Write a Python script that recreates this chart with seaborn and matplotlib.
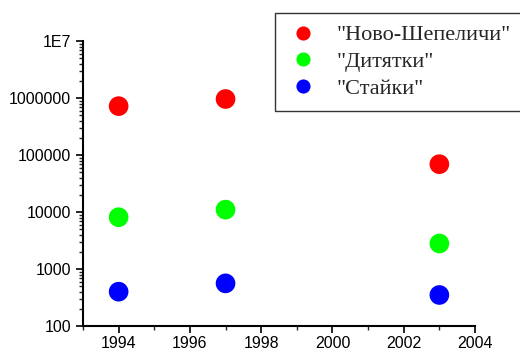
import matplotlib
matplotlib.use('Agg')
import matplotlib.pyplot as plt
import matplotlib.ticker as mticker
import seaborn as sns
import pandas as pd

years = [1994, 1997, 2003]
novo_shepelichi = [720000, 960000, 69000]
dytiatky = [8100, 11000, 2800]
staiky = [400, 560, 350]
series_names = ['"Ново-Шепеличи"', '"Дитятки"', '"Стайки"']
colors = ['#ff0000', '#00ff00', '#0000ff']

df = pd.DataFrame({
    'year': years * 3,
    'value': novo_shepelichi + dytiatky + staiky,
    'site': [series_names[0]] * 3 + [series_names[1]] * 3 + [series_names[2]] * 3,
})

sns.set_theme(style="ticks")
plt.rcParams['font.family'] = ['Liberation Sans', 'DejaVu Sans']

fig = plt.figure(figsize=(5.2, 3.51), dpi=100)
ax = fig.add_axes([83 / 520, 1 - 326 / 351, (475 - 83) / 520, (326 - 41) / 351])

sns.scatterplot(data=df, x='year', y='value', hue='site', palette=colors,
                s=200, linewidth=0, ax=ax, legend=True)

ax.set_yscale('log')
ax.set_ylim(100, 1e7)
ax.set_xlim(1993, 2004)
ax.set_yticks([100, 1000, 10000, 100000, 1000000, 10000000])
ax.set_yticklabels(['100', '1000', '10000', '100000', '1000000', '1E7'])
ax.yaxis.set_minor_locator(mticker.LogLocator(base=10, subs=range(2, 10)))
ax.yaxis.set_minor_formatter(mticker.NullFormatter())
ax.set_xticks([1994, 1996, 1998, 2000, 2002, 2004])
ax.xaxis.set_minor_locator(mticker.MultipleLocator(1))
ax.set_xlabel('')
ax.set_ylabel('')
ax.tick_params(axis='both', which='major', length=5, width=1.2, labelsize=11.5, colors='black')
ax.tick_params(axis='x', which='major', pad=2)
ax.tick_params(axis='both', which='minor', length=3, width=1)
for side in ['left', 'bottom']:
    ax.spines[side].set_linewidth(1.5)
    ax.spines[side].set_color('black')
sns.despine(ax=ax)

leg = ax.legend(loc='upper left', bbox_to_anchor=(275 / 520, 1 - 13 / 351),
                bbox_transform=fig.transFigure, frameon=True, fancybox=False,
                prop={'family': 'Liberation Serif', 'size': 16},
                handletextpad=0.8, labelspacing=0.28, borderpad=0.53,
                borderaxespad=0, handlelength=1.46, markerscale=0.72,
                edgecolor='black')
leg.get_frame().set_linewidth(1.0)

fig.savefig('out.png', dpi=100)
